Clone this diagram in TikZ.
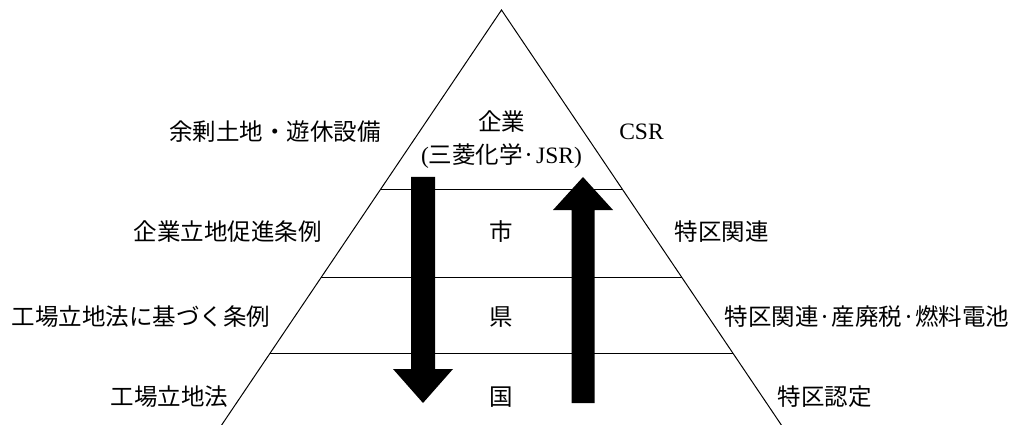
\documentclass[tikz,border=0pt]{standalone}
\usepackage{fontspec}
\setmainfont{Liberation Serif}
\newfontfamily\cjk{Noto Sans CJK JP}
\usetikzlibrary{calc}
\begin{document}
\begin{tikzpicture}[x=1pt,y=-1pt,
  edge/.style={draw=black,line width=1pt},
  lbl/.style={font=\fontsize{23.5}{28}\selectfont\cjk,inner sep=0pt,anchor=base},
  latin/.style={font=\fontsize{23.5}{28}\selectfont},
  bigarrow/.style={fill=black}]
\useasboundingbox (0,0) rectangle (1015,425);
\coordinate (apex) at (501.5,10);
\coordinate (bl) at (223,423);
\coordinate (br) at (780,423);
% triangle sides
\draw[edge] ($(apex)!1.006!(bl)$) -- (apex) -- ($(apex)!1.006!(br)$);
% level lines
\foreach \t/\n in {0.4358/a,0.6465/b,0.8305/c}{
  \coordinate (L\n) at ($(apex)!\t!(bl)$);
  \coordinate (R\n) at ($(apex)!\t!(br)$);
  \draw[edge] (L\n) -- (R\n);
}
% arrows
\fill[bigarrow] (411,177) -- (435,177) -- (435,369) -- (453,369) -- (423,403) -- (393,369) -- (411,369) -- cycle;
\fill[bigarrow] (571.5,403) -- (594.5,403) -- (594.5,210) -- (613,210) -- (583,177) -- (553,210) -- (571.5,210) -- cycle;
% centre labels
\node[lbl] (kigyo) at (501.5,130.5) {企業};
\node[lbl,latin] (kigyo2) at (501.5,163.5) {({\cjk 三菱化学·}JSR)};
\node[lbl] (shi) at (501.5,240.5) {市};
\node[lbl] (ken) at (501.5,325.5) {県};
\node[lbl] (kuni) at (501.5,405.5) {国};
% left labels
\node[lbl] (l1) at (275,140.5) {余剰土地・遊休設備};
\node[lbl] (l2) at (227.5,240.5) {企業立地促進条例};
\node[lbl] (l3) at (141,325.5) {工場立地法に基づく条例};
\node[lbl] (l4) at (169.5,405.5) {工場立地法};
% right labels
\node[lbl,latin] (r1) at (641.5,140) {CSR};
\node[lbl] (r2) at (721.5,240.5) {特区関連};
\node[lbl] (r3) at (867,325.5) {特区関連·産廃税·燃料電池};
\node[lbl] (r4) at (824.5,405.5) {特区認定};
\end{tikzpicture}
\end{document}
